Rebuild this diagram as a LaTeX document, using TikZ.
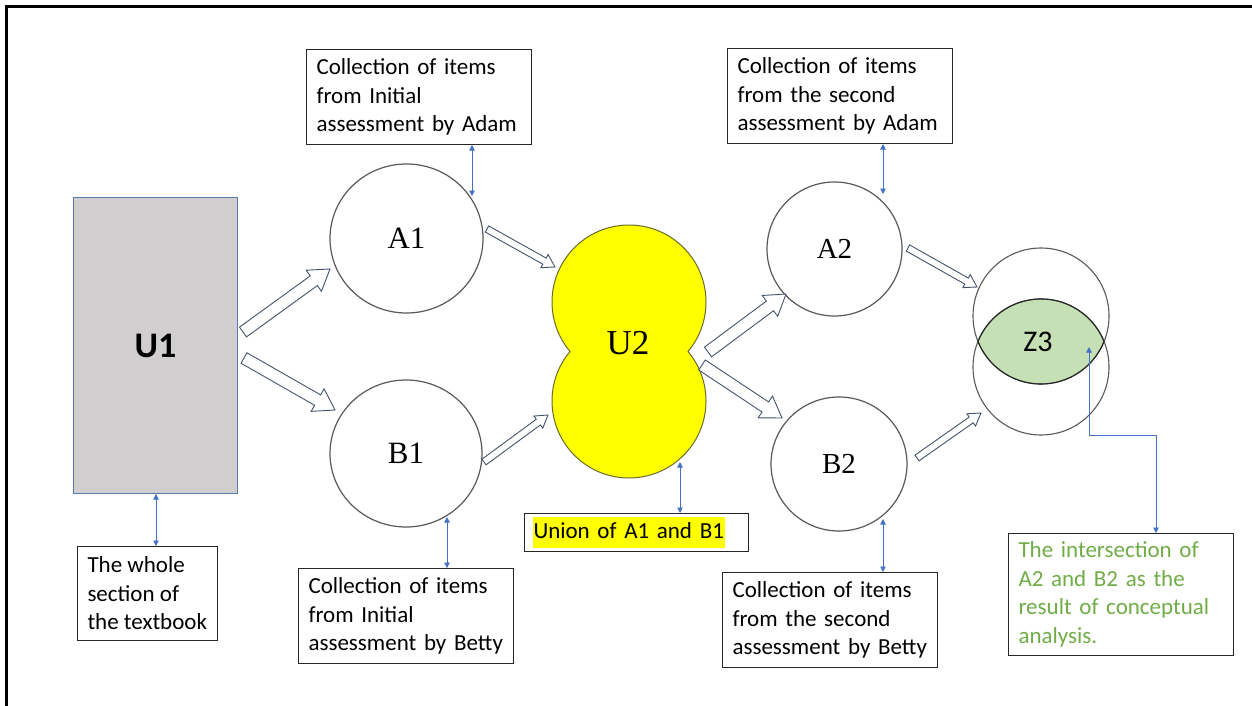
\documentclass[tikz,border=0pt]{standalone}
\usepackage{fontspec}
\setmainfont{Carlito}
\newfontfamily\serifA{Liberation Serif}
\usetikzlibrary{shapes.geometric,arrows.meta,calc}
\definecolor{arrowblue}{HTML}{4472C4}
\definecolor{blockline}{HTML}{44546A}
\definecolor{circline}{HTML}{595959}
\definecolor{uonefill}{HTML}{D0CECE}
\definecolor{uoneline}{HTML}{5B7BAF}
\definecolor{lensfill}{HTML}{C5E0B4}
\definecolor{lensline}{HTML}{262626}
\definecolor{greentext}{HTML}{70AD47}
\definecolor{hiyellow}{HTML}{FFFF00}
\definecolor{uborder}{HTML}{6B6B2E}
\hyphenpenalty=10000
\tikzset{
  blockarrow/.style={draw=blockline, fill=white, line width=0.9pt, line join=miter},
  dbl/.style={draw=arrowblue, line width=0.9pt, {Triangle[length=5.5pt,width=5.5pt]}-{Triangle[length=5.5pt,width=5.5pt]}},
  setcircle/.style={ellipse, draw=circline, line width=1.2pt, inner sep=0pt, font=\serifA\fontsize{31}{31}\selectfont},
  textbox/.style={draw=black!85, line width=1pt, anchor=north west, align=left, inner xsep=10pt, inner ysep=0pt, font=\fontsize{23}{28.5}\selectfont},
}
\newcommand{\blockarr}[5]{%
  \coordinate (bh) at ($(#2)!#5!(#1)$);
  \draw[blockarrow] ($(#1)!#3!90:(#2)$) -- ($(bh)!#3!90:(#2)$) -- ($(bh)!#4!90:(#2)$) -- (#2) -- ($(bh)!#4!-90:(#2)$) -- ($(bh)!#3!-90:(#2)$) -- ($(#1)!#3!-90:(#2)$) -- cycle;}
\begin{document}
\begin{tikzpicture}[x=1pt,y=-1pt]
\useasboundingbox (0,0) rectangle (1252,706);
\fill[white] (0,0) rectangle (1252,706);
% frame
\draw[line width=3pt] (6.5,706) -- (6.5,6.5) -- (1252,6.5);

% U1
\node[draw=uoneline, fill=uonefill, line width=1pt, minimum width=164pt, minimum height=296pt, anchor=north west, inner sep=0pt, font=\bfseries\fontsize{36}{36}\selectfont] (U1) at (73,197) {U1};

% set circles
\node[setcircle, minimum width=153pt, minimum height=149pt] (A1) at (406.5,238.5) {A1};
\node[setcircle, minimum width=152pt, minimum height=147pt] (B1) at (406,453.5) {B1};
\node[setcircle, minimum width=135pt, minimum height=134pt, font=\serifA\fontsize{29}{29}\selectfont] (A2) at (834.5,249) {A2};
\node[setcircle, minimum width=136pt, minimum height=134pt, font=\serifA\fontsize{29}{29}\selectfont] (B2) at (839,464) {B2};

% U2 union shape
\draw[fill=hiyellow, draw=uborder, line width=1pt] ([shift={(40:77)}]629,302) arc[start angle=40, end angle=-220, radius=77] arc[start angle=-140, end angle=-400, radius=77] -- cycle;
\node[font=\serifA\fontsize{35}{35}\selectfont, inner sep=0pt] (U2) at (628,343) {U2};

% Z3 intersection
\fill[lensfill] ([shift={(22:68)}]1041,316) arc[start angle=22, end angle=158, radius=68] arc[start angle=-158, end angle=-22, radius=68] -- cycle;
\draw[circline, line width=1.1pt] (1041,316) circle[radius=68];
\draw[circline, line width=1.1pt] (1041,367) circle[radius=68];
\draw[lensline, line width=1.1pt] ([shift={(22:68)}]1041,316) arc[start angle=22, end angle=158, radius=68] arc[start angle=-158, end angle=-22, radius=68] -- cycle;
\node[font=\fontsize{30}{30}\selectfont, inner sep=0pt] (Z3) at (1038,342) {Z3};

% block arrows
\coordinate (t1) at (243,332); \coordinate (p1) at (330,269);
\coordinate (t2) at (244,358); \coordinate (p2) at (335,410);
\coordinate (t3) at (487,229); \coordinate (p3) at (555,267);
\coordinate (t4) at (484,462); \coordinate (p4) at (548,415);
\coordinate (t5) at (708,352); \coordinate (p5) at (786,294);
\coordinate (t6) at (702,365); \coordinate (p6) at (782,418);
\coordinate (t7) at (908,248); \coordinate (p7) at (977,287);
\coordinate (t8) at (917,458); \coordinate (p8) at (981,413);
\blockarr{t1}{p1}{6pt}{13pt}{20pt}
\blockarr{t2}{p2}{6pt}{13pt}{20pt}
\blockarr{t3}{p3}{3.5pt}{7.5pt}{12pt}
\blockarr{t4}{p4}{3.5pt}{7.5pt}{12pt}
\blockarr{t5}{p5}{6pt}{13pt}{20pt}
\blockarr{t6}{p6}{6pt}{13pt}{20pt}
\blockarr{t7}{p7}{3.5pt}{7.5pt}{12pt}
\blockarr{t8}{p8}{3.5pt}{7.5pt}{12pt}

% text boxes
\node[textbox, minimum width=225pt, minimum height=95pt, text width=205pt] (tA1) at (306,49) {Collection of items\\from Initial\\assessment by Adam};
\node[textbox, minimum width=225pt, minimum height=95pt, text width=205pt] (tA2) at (727,48) {Collection of items\\from the second\\assessment by Adam};
\node[textbox, minimum width=139pt, minimum height=94pt] (bU1) at (77,546) {The whole\\section of\\the textbook};
\node[textbox, minimum width=215pt, minimum height=95pt, text width=195pt] (bB1) at (298,568) {Collection of items\\from Initial\\assessment by Betty};
\node[textbox, minimum width=224pt, minimum height=38pt, text width=208pt, inner xsep=8pt] (union) at (524,513) {\setlength{\fboxsep}{1pt}\colorbox{hiyellow}{\strut Union of A1 and B1}};
\node[textbox, minimum width=215pt, minimum height=95pt, text width=195pt] (bB2) at (722,572) {Collection of items\\from the second\\assessment by Betty};
\node[textbox, minimum width=225pt, minimum height=122pt, text width=205pt, text=greentext] (green) at (1008,533) {The intersection of\\A2 and B2 as the\\result of conceptual\\analysis.};

% double-headed pointers
\coordinate (cA1) at (472,196);
\coordinate (cA2) at (883,194);
\coordinate (cB1) at (447,517);
\coordinate (cU2) at (680,462);
\coordinate (cB2) at (883,519);
\coordinate (cZ3) at (1089,347);
\coordinate (zbend) at (1089,435);
\draw[dbl] (tA1.south -| 472,0) -- (cA1);
\draw[dbl] (tA2.south -| 883,0) -- (cA2);
\draw[dbl] (U1.south -| 156,0) -- (bU1.north -| 156,0);
\draw[dbl] (cB1) -- (bB1.north -| 447,0);
\draw[dbl] (cU2) -- (union.north -| 680,0);
\draw[dbl] (cB2) -- (bB2.north -| 883,0);
\draw[dbl] (cZ3) -- (zbend) -| (green.north -| 1156,0);
\end{tikzpicture}
\end{document}
